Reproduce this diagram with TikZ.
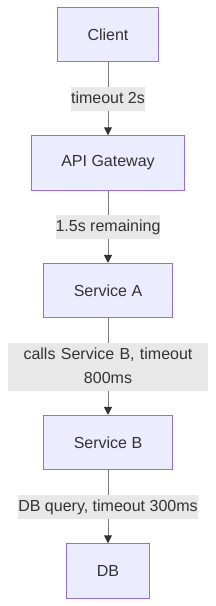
\documentclass[tikz,border=0pt]{standalone}
\usepackage{fontspec}
\setmainfont{Liberation Sans}
\usetikzlibrary{arrows.meta}
\definecolor{nodefill}{HTML}{ECECFF}
\definecolor{nodeedge}{HTML}{9370DB}
\definecolor{ink}{HTML}{333333}
\definecolor{wire}{HTML}{7A7A7A}
\definecolor{lblbg}{HTML}{E8E8E8}

\begin{document}
\begin{tikzpicture}[x=1pt,y=-1pt,font=\fontsize{16}{24}\selectfont,
  box/.style={draw=nodeedge,fill=nodefill,line width=1pt,text=ink,inner xsep=30pt,inner ysep=0pt,minimum height=54.5pt},
  lbl/.style={fill=lblbg,text=ink,inner xsep=0pt,inner ysep=0pt,minimum height=24pt,execute at begin node=\strut,execute at end node=\strut},
  flow/.style={-{Triangle[length=8pt,width=8pt,color=ink]},line width=1pt,wire}]
  \fill[white] (0,0) rectangle (216,606);
  \useasboundingbox (0,0) rectangle (216,606);

  % ===== services =====
  \node[box] (client) at (108,34.7) {Client};
  \node[box] (gw) at (108,163) {API Gateway};
  \node[box] (svca) at (108,290.7) {Service A};
  \node[box] (svcb) at (108,442.7) {Service B};
  \node[box] (db) at (108,571) {DB};

  % ===== calls with their time budgets =====
  \draw[flow] (client) -- node[lbl] {timeout 2s} (gw);
  \draw[flow] (gw) -- node[lbl] {1.5s remaining} (svca);
  \draw[flow] (svca) -- node[lbl,text width=200pt,align=center,minimum height=48pt] {calls Service B, timeout\\800ms} (svcb);
  \draw[flow] (svcb) -- node[lbl] {DB query, timeout 300ms} (db);
\end{tikzpicture}
\end{document}
